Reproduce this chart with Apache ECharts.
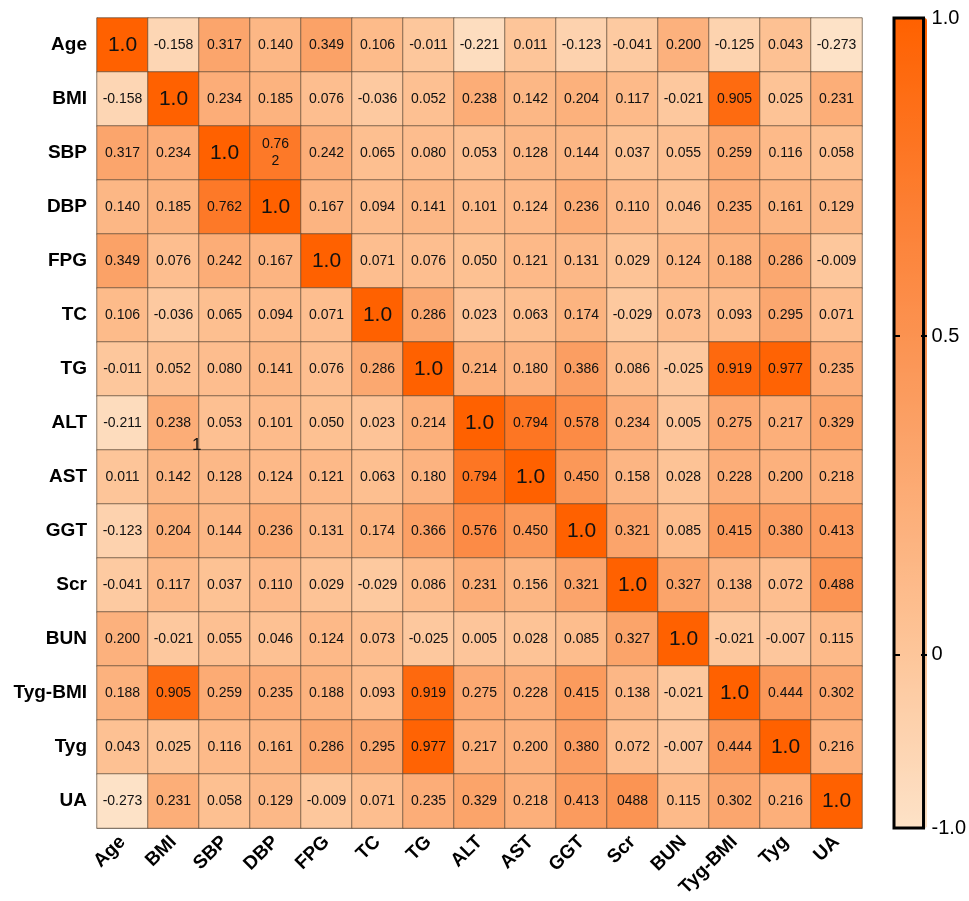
<!DOCTYPE html>
<html>
<head>
<meta charset="utf-8">
<script src="https://cdn.jsdelivr.net/npm/echarts@6/dist/echarts.min.js"></script>
<style>
html, body { margin: 0; padding: 0; background: #fff; }
#main { width: 969px; height: 901px; }
</style>
</head>
<body>
<div id="main"></div>
<script>
var names = ['Age', 'BMI', 'SBP', 'DBP', 'FPG', 'TC', 'TG', 'ALT', 'AST', 'GGT', 'Scr', 'BUN', 'Tyg-BMI', 'Tyg', 'UA'];

// 相关系数矩阵，按行读出（行 = y轴，列 = x轴）
var rowAge = [1.0, -0.158, 0.317, 0.140, 0.349, 0.106, -0.011, -0.221, 0.011, -0.123, -0.041, 0.200, -0.125, 0.043, -0.273];
var rowBMI = [-0.158, 1.0, 0.234, 0.185, 0.076, -0.036, 0.052, 0.238, 0.142, 0.204, 0.117, -0.021, 0.905, 0.025, 0.231];
var rowSBP = [0.317, 0.234, 1.0, 0.762, 0.242, 0.065, 0.080, 0.053, 0.128, 0.144, 0.037, 0.055, 0.259, 0.116, 0.058];
var rowDBP = [0.140, 0.185, 0.762, 1.0, 0.167, 0.094, 0.141, 0.101, 0.124, 0.236, 0.110, 0.046, 0.235, 0.161, 0.129];
var rowFPG = [0.349, 0.076, 0.242, 0.167, 1.0, 0.071, 0.076, 0.050, 0.121, 0.131, 0.029, 0.124, 0.188, 0.286, -0.009];
var rowTC = [0.106, -0.036, 0.065, 0.094, 0.071, 1.0, 0.286, 0.023, 0.063, 0.174, -0.029, 0.073, 0.093, 0.295, 0.071];
var rowTG = [-0.011, 0.052, 0.080, 0.141, 0.076, 0.286, 1.0, 0.214, 0.180, 0.386, 0.086, -0.025, 0.919, 0.977, 0.235];
var rowALT = [-0.211, 0.238, 0.053, 0.101, 0.050, 0.023, 0.214, 1.0, 0.794, 0.578, 0.234, 0.005, 0.275, 0.217, 0.329];
var rowAST = [0.011, 0.142, 0.128, 0.124, 0.121, 0.063, 0.180, 0.794, 1.0, 0.450, 0.158, 0.028, 0.228, 0.200, 0.218];
var rowGGT = [-0.123, 0.204, 0.144, 0.236, 0.131, 0.174, 0.366, 0.576, 0.450, 1.0, 0.321, 0.085, 0.415, 0.380, 0.413];
var rowScr = [-0.041, 0.117, 0.037, 0.110, 0.029, -0.029, 0.086, 0.231, 0.156, 0.321, 1.0, 0.327, 0.138, 0.072, 0.488];
var rowBUN = [0.200, -0.021, 0.055, 0.046, 0.124, 0.073, -0.025, 0.005, 0.028, 0.085, 0.327, 1.0, -0.021, -0.007, 0.115];
var rowTygBMI = [0.188, 0.905, 0.259, 0.235, 0.188, 0.093, 0.919, 0.275, 0.228, 0.415, 0.138, -0.021, 1.0, 0.444, 0.302];
var rowTyg = [0.043, 0.025, 0.116, 0.161, 0.286, 0.295, 0.977, 0.217, 0.200, 0.380, 0.072, -0.007, 0.444, 1.0, 0.216];
var rowUA = [-0.273, 0.231, 0.058, 0.129, -0.009, 0.071, 0.235, 0.329, 0.218, 0.413, 0.488, 0.115, 0.302, 0.216, 1.0];

var matrix = [rowAge, rowBMI, rowSBP, rowDBP, rowFPG, rowTC, rowTG, rowALT, rowAST, rowGGT, rowScr, rowBUN, rowTygBMI, rowTyg, rowUA];

// 原图中写法特殊的格子文字
var labelFix = { '2,3': '0.76\n2', '14,10': '0488' };

var barTicks = [0, 0.5];
var barLabels = [-0.273, 0, 0.5, 1];
var barLabelText = { '-0.273': '-1.0', '0': '0', '0.5': '0.5', '1': '1.0' };

var font = 'Liberation Sans, Arial, sans-serif';

var data = [];
for (var r = 0; r < matrix.length; r++) {
	for (var c = 0; c < matrix[r].length; c++) {
		var item = { value: [c, r, matrix[r][c]] };
		if (r == c) {
			item.label = { fontSize: 21 };
		}
		data.push(item);
	}
}

var barTickStyle = { show: true, length: 6, customValues: barTicks, lineStyle: { color: '#000', width: 2 } };

var myChart = echarts.init(document.getElementById('main'));
var option = {
	animation: false,
	textStyle: { fontFamily: font },
	grid: [{
		left: 97, top: 18, width: 765, height: 810
	}, {
		left: 894, top: 18, width: 33, height: 810,
		show: true, borderColor: '#000', borderWidth: 3,
		backgroundColor: 'transparent', zlevel: 1
	}],
	xAxis: [{
		type: 'category',
		data: names,
		position: 'bottom',
		axisLine: { lineStyle: { color: '#999' } },
		axisTick: { alignWithLabel: true, length: 8, lineStyle: { color: '#888' } },
		axisLabel: { rotate: 45, fontSize: 19, fontWeight: 'bold', color: '#000', margin: 11, interval: 0 },
		splitArea: { show: false }
	}, {
		type: 'value', gridIndex: 1, show: false
	}],
	yAxis: [{
		type: 'category',
		data: names,
		inverse: true,
		axisLine: { lineStyle: { color: '#999' } },
		axisTick: { alignWithLabel: true, length: 7, lineStyle: { color: '#888' } },
		axisLabel: { fontSize: 19, fontWeight: 'bold', color: '#000', margin: 10, interval: 0 },
		splitArea: { show: false }
	}, {
		// 色条右侧文字
		type: 'value', gridIndex: 1, position: 'right',
		min: -0.273, max: 1, zlevel: 1,
		axisLine: { show: false },
		splitLine: { show: false },
		axisTick: { show: false },
		axisLabel: {
			fontSize: 20, color: '#000', margin: 8, customValues: barLabels,
			formatter: function (v) { return barLabelText[String(v)]; }
		}
	}, {
		// 色条左边内刻度
		type: 'value', gridIndex: 1, position: 'left',
		min: -0.273, max: 1, zlevel: 1,
		axisLine: { show: false },
		splitLine: { show: false },
		axisTick: Object.assign({ inside: true }, barTickStyle),
		axisLabel: { show: false }
	}, {
		// 色条右边内刻度
		type: 'value', gridIndex: 1, position: 'left', offset: -33,
		min: -0.273, max: 1, zlevel: 1,
		axisLine: { show: false },
		splitLine: { show: false },
		axisTick: Object.assign({ inside: false }, barTickStyle),
		axisLabel: { show: false }
	}],
	visualMap: {
		type: 'continuous',
		min: -0.273,
		max: 1,
		seriesIndex: 0,
		calculable: false,
		hoverLink: false,
		orient: 'vertical',
		left: 894,
		top: 18,
		itemWidth: 33,
		itemHeight: 810,
		padding: 0,
		text: null,
		showLabel: false,
		inRange: {
			color: ['#FDE2C7', '#FDC193', '#FBA065', '#FC8136', '#FF6100']
		}
	},
	graphic: [{
		type: 'text', left: 192, top: 437, z: 100,
		style: { text: '1', fontSize: 17, fill: '#111', fontFamily: font }
	}],
	series: [{
		type: 'heatmap',
		xAxisIndex: 0,
		yAxisIndex: 0,
		data: data,
		itemStyle: { borderColor: 'rgba(90,72,55,0.7)', borderWidth: 1 },
		label: {
			show: true,
			fontSize: 14,
			color: '#111',
			lineHeight: 17,
			formatter: function (p) {
				var x = p.value[0], y = p.value[1];
				var key = y + ',' + x;
				if (labelFix[key]) return labelFix[key];
				if (x == y) return '1.0';
				return p.value[2].toFixed(3);
			}
		},
		emphasis: { disabled: true }
	}]
};
myChart.setOption(option);
window.addEventListener('resize', function () {
	myChart.resize();
}, false);
</script>
</body>
</html>
